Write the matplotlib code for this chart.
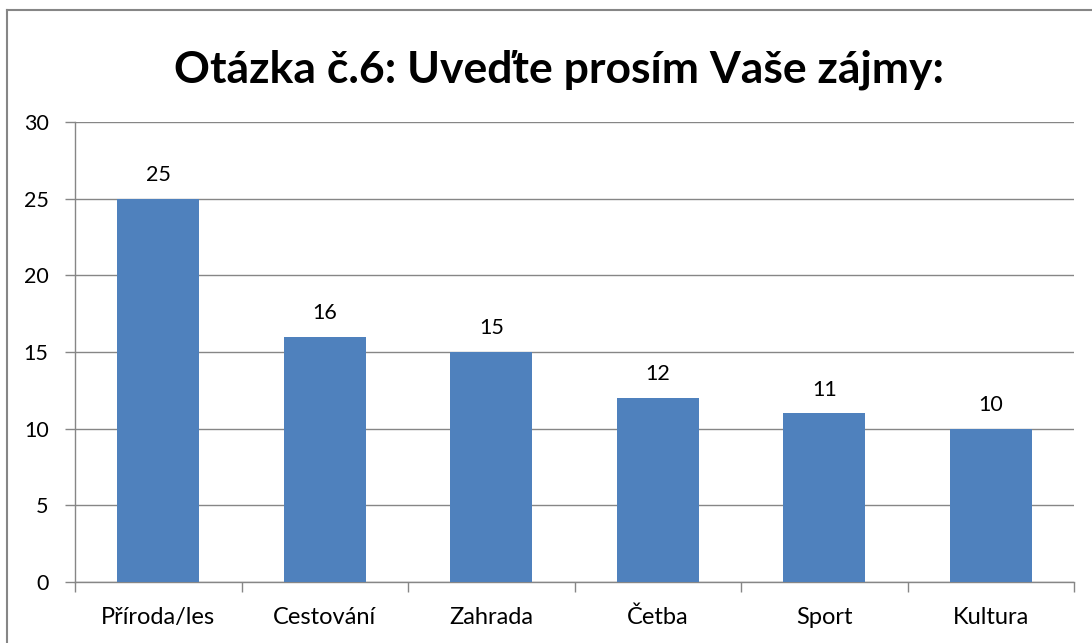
import matplotlib
matplotlib.use("Agg")
import matplotlib.pyplot as plt
import numpy as np

categories = ["Příroda/les", "Cestování", "Zahrada", "Četba", "Sport", "Kultura"]
values = [25, 16, 15, 12, 11, 10]
yticks = [0, 5, 10, 15, 20, 25, 30]
title = "Otázka č.6: Uveďte prosím Vaše zájmy:"

plt.rcParams['font.family'] = ['Lato', 'DejaVu Sans']
fig = plt.figure(figsize=(10.92, 6.43), dpi=100)
ax = fig.add_axes([75/1092, 1-582/643, (1074-75)/1092, (582-122)/643])

gray = '#868686'
x = np.arange(len(categories))
ax.bar(x, values, width=0.49, color='#4F81BD', zorder=3)
for xi, v in zip(x, values):
    ax.text(xi, v + 0.9, str(v), ha='center', va='bottom', fontsize=15.5, color='black')

ax.set_xlim(-0.5, len(categories) - 0.5)
ax.set_ylim(0, 30)
ax.set_yticks(yticks)
ax.set_yticklabels([str(t) for t in yticks], fontsize=15.5)
ax.yaxis.grid(True, color=gray, linewidth=1, zorder=0)
ax.set_xticks(x)
ax.set_xticklabels(categories, fontsize=17)
ax.tick_params(axis='x', length=0, pad=18)
ax.set_xticks(np.arange(len(categories) + 1) - 0.5, minor=True)
ax.tick_params(axis='x', which='minor', length=7, color=gray, width=1)
ax.tick_params(axis='y', length=7, color=gray, width=1, pad=12)
for s in ['top', 'right']:
    ax.spines[s].set_visible(False)
for s in ['left', 'bottom']:
    ax.spines[s].set_color(gray)
    ax.spines[s].set_linewidth(1)

fig.text(559/1092, 1-70/643, title, ha='center', va='center', fontsize=32, fontweight='bold')

# outer border (top and left visible)
fig.add_artist(plt.Line2D([7/1092, 7/1092], [0, 1-10/643], transform=fig.transFigure, color=gray, linewidth=1.5))
fig.add_artist(plt.Line2D([7/1092, 1], [1-10/643, 1-10/643], transform=fig.transFigure, color=gray, linewidth=1.5))

fig.savefig("out.png", dpi=100)
